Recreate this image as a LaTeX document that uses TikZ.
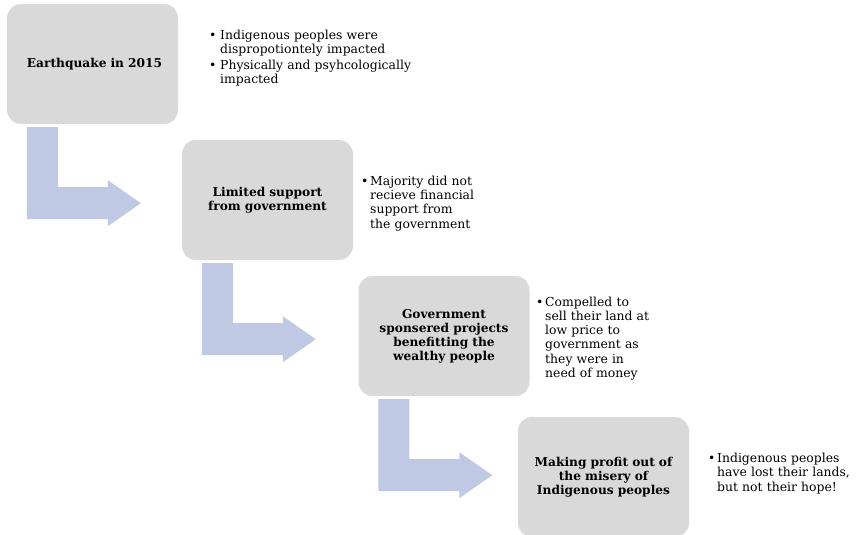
\documentclass[tikz,border=0pt]{standalone}
\usepackage{fontspec}
\setmainfont{DejaVu Serif}
\definecolor{boxgray}{RGB}{217,217,217}
\definecolor{arrowblue}{RGB}{191,201,228}
\tikzset{
  stagebox/.style={fill=boxgray, rounded corners=14pt, minimum width=171pt, minimum height=120pt,
    text width=165pt, align=center, inner sep=0pt, font=\bfseries\fontsize{12.2}{14}\selectfont},
  notes/.style={anchor=west, inner sep=0pt, text width=#1, font=\fontsize{12.4}{14.2}\selectfont},
  bentarrow/.style={fill=arrowblue},
}
\newcommand{\bulitem}[2][9pt]{\par\noindent\hangindent=#1\hangafter=1\makebox[#1][l]{\textbullet}#2\par}
\newcommand{\drawbent}[1]{%
  \begin{scope}[shift={(#1.south west)}]
    \fill[bentarrow] (20,3) -- (51,3) -- (51,63) -- (101,63) -- (101,56) -- (134,79)
      -- (101,102) -- (101,95) -- (20,95) -- cycle;
  \end{scope}}
\begin{document}
\begin{tikzpicture}[x=1pt,y=-1pt]
\useasboundingbox (0,0) rectangle (857,535);

\node[stagebox] (b1) at (92.5,64) {\hspace*{4pt}Earthquake in 2015};
\node[stagebox] (b2) at (267.5,200) {Limited support\\from government};
\node[stagebox] (b3) at (444,336) {Government\\sponsered projects\\benefitting the\\wealthy people};
\node[stagebox] (b4) at (603.5,477) {Making profit out of\\the misery of\\Indigenous peoples};

\drawbent{b1}
\drawbent{b2}
\drawbent{b3}

\node[notes=240pt] (n1) at (209,56) {\raggedright\bulitem[11pt]{Indigenous peoples were\newline dispropotiontely impacted}\vspace{1.5pt}\bulitem[11pt]{Physically and psyhcologically\newline impacted}};
\node[notes=150pt] (n2) at (361,201) {\raggedright\bulitem{Majority did not\newline recieve financial\newline support from\newline the government}};
\node[notes=150pt] (n3) at (536,336) {\raggedright\bulitem{Compelled to\newline sell their land at\newline low price to\newline government as\newline they were in\newline need of money}};
\node[notes=150pt] (n4) at (708,471) {\raggedright\bulitem{Indigenous peoples\newline have lost their lands,\newline but not their hope!}};
\end{tikzpicture}
\end{document}
